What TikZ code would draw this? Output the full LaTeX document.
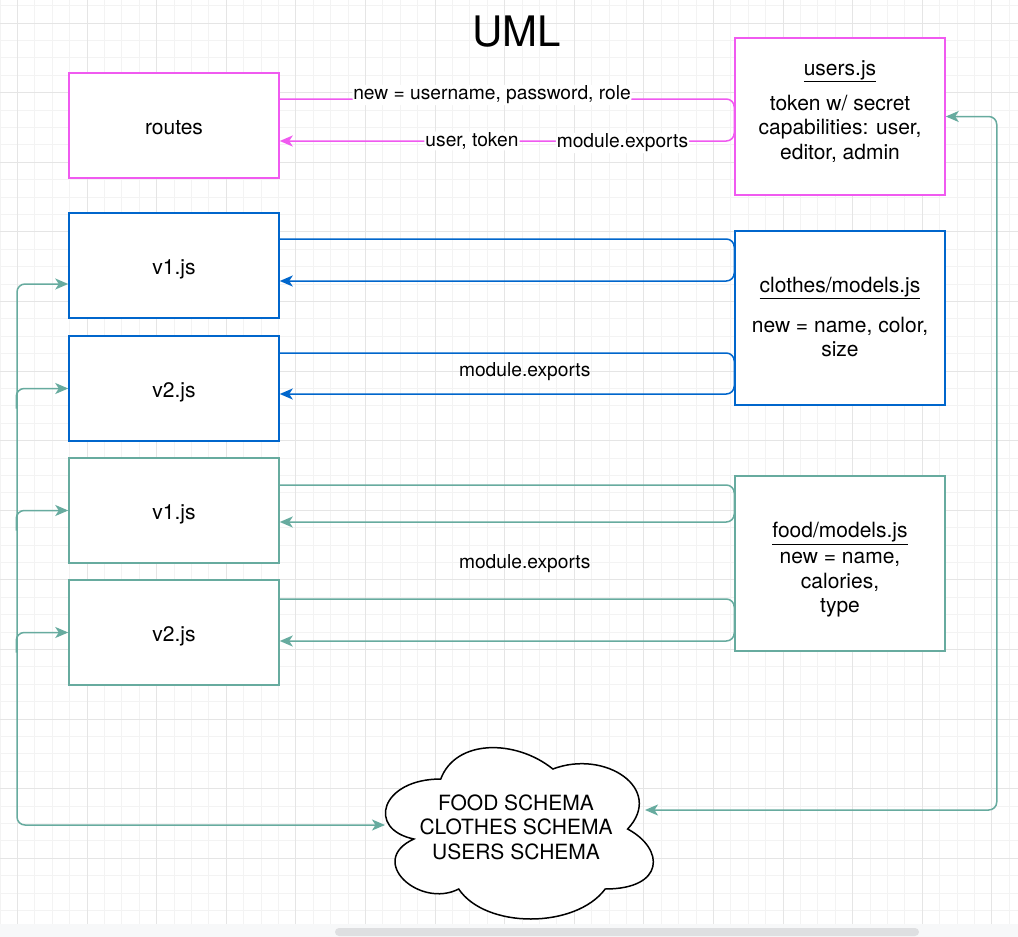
\documentclass[tikz,border=0pt]{standalone}
\usepackage{fontspec}
\setmainfont{TeX Gyre Heros}
\usepackage{tikz}
\usetikzlibrary{arrows.meta}
\definecolor{pinkc}{RGB}{240,90,240}
\definecolor{bluec}{RGB}{0,102,204}
\definecolor{tealc}{RGB}{103,171,159}
\definecolor{gridminor}{RGB}{243,243,243}
\definecolor{gridmajor}{RGB}{229,229,229}
\definecolor{scrollbg}{RGB}{247,248,249}
\definecolor{scrollbar}{RGB}{222,223,225}
\tikzset{box/.style={rectangle,draw,fill=white,line width=1.5pt,minimum width=210pt,minimum height=105pt,
    font=\fontsize{21}{24}\selectfont,text height=21pt,text depth=4pt},
  pinkbox/.style={box,draw=pinkc},
  bluebox/.style={box,draw=bluec},
  tealbox/.style={box,draw=tealc},
  pinkline/.style={draw=pinkc,line width=1.5pt,rounded corners=8pt},
  blueline/.style={draw=bluec,line width=1.5pt,rounded corners=8pt},
  tealline/.style={draw=tealc,line width=1.5pt,rounded corners=8pt},
  lbl/.style={fill=white,inner sep=1pt},
  txt/.style={inner sep=0pt},
  bigtxt/.style={inner sep=0pt,align=center,font=\fontsize{21}{24.5}\selectfont}}

\begin{document}
\begin{tikzpicture}[x=1pt,y=-1pt,>={Stealth[length=13pt,width=11pt,inset=3.5pt]},font=\fontsize{19.2}{24}\selectfont]
        \useasboundingbox (0,0) rectangle (1018,937);
        % background grid
        \fill[white] (0,0) rectangle (1018,937);
        \foreach \k in {0,...,58} \draw[gridminor,line width=1pt] (17.4*\k,0) -- (17.4*\k,924);
        \foreach \k in {0,...,53} \draw[gridminor,line width=1pt] (0,5.6+17.4*\k) -- (1018,5.6+17.4*\k);
        \foreach \k in {1,5,...,57} \draw[gridmajor,line width=1pt] (17.4*\k,0) -- (17.4*\k,924);
        \foreach \k in {1,5,...,53} \draw[gridmajor,line width=1pt] (0,5.6+17.4*\k) -- (1018,5.6+17.4*\k);
        \fill[scrollbg] (0,924) rectangle (1018,937);
        \fill[scrollbar,rounded corners=4pt] (335,928) rectangle (919,936);

        \node[txt,font=\fontsize{42}{42}\selectfont] (uml) at (517,32) {UML};

        \node[pinkbox] (routes) at (174,125.5) {routes};
        \node[pinkbox,minimum height=157pt] (users) at (840,116.5) {};
        \node[bigtxt] (userstxt) at (840,111.5)
            {\underline{users.js}\\[10.5pt]token w/ secret\\capabilities: user,\\editor, admin};
        \node[bluebox] (v1a) at (174,265.5) {v1.js};
        \node[bluebox] (v2a) at (174,388.5) {v2.js};
        \node[bluebox,minimum height=174pt] (clothes) at (840,318) {};
        \node[bigtxt] (clothestxt) at (840,317)
            {\underline{clothes/models.js}\\[15.5pt]new = name, color,\\size};
        \node[tealbox] (v1b) at (174,510.5) {v1.js};
        \node[tealbox] (v2b) at (174,632.5) {v2.js};
        \node[tealbox,minimum height=175pt] (food) at (840,563.5) {};
        \node[bigtxt] (foodtxt) at (840,570)
            {\underline{food/models.js}\\[1.5pt]new = name,\\calories,\\type};

        % cloud
        \begin{scope}[shift={(366,729)},x=2.99pt,y=-2pt]
            \draw[line width=1.5pt,fill=white] (25,25) .. controls (5,25) and (0,50) .. (16,55)
                .. controls (0,66) and (18,90) .. (31,80)
                .. controls (40,100) and (70,100) .. (80,80)
                .. controls (100,80) and (100,60) .. (87.5,50)
                .. controls (100,30) and (80,10) .. (62.5,20)
                .. controls (50,5) and (30,5) .. (25,25) -- cycle;
        \end{scope}
        \node[bigtxt] (schema) at (516,827) {FOOD SCHEMA\\CLOTHES SCHEMA\\USERS SCHEMA};
        \coordinate (schemaL) at (385,825);
        \coordinate (schemaR) at (645,810);
        \coordinate (busL) at (17,825);

        \draw [pinkline,->] ([yshift=26.5pt]routes.east) -- node[lbl,pos=0.467,yshift=4pt]{new = username, password, role} ([yshift=17.5pt]users.west)
            -- ([yshift=-24.5pt]users.west) -- node[lbl,pos=0.577]{user, token} node[lbl,pos=0.246,yshift=-2pt]{module.exports} ([yshift=-15.5pt]routes.east);
        \draw [blueline,->] ([yshift=26.5pt]v1a.east) -- ([yshift=79pt]clothes.west)
            -- ([yshift=37pt]clothes.west) -- ([yshift=-15.5pt]v1a.east);
        \draw [blueline,->] ([yshift=35.5pt]v2a.east) -- node[txt,pos=0.539,yshift=-19pt]{module.exports} ([yshift=-35pt]clothes.west)
            -- ([yshift=-76pt]clothes.west) -- ([yshift=-5.5pt]v2a.east);
        \draw [tealline,->] ([yshift=25.5pt]v1b.east) -- ([yshift=78.5pt]food.west)
            -- ([yshift=41.5pt]food.west) -- ([yshift=-11.5pt]v1b.east);
        \draw [tealline,->] ([yshift=33.5pt]v2b.east) -- node[txt,pos=0.539,yshift=35pt]{module.exports} ([yshift=-35.5pt]food.west)
            -- ([yshift=-77.5pt]food.west) -- ([yshift=-8.5pt]v2b.east);

        \draw [tealline,<->] ([yshift=-18.5pt]v1a.west) -| (busL) -- (schemaL);
        \draw [tealline,->] ([xshift=-52pt,yshift=-20pt]v2a.west) |- (v2a.west);
        \draw [tealline,->] ([xshift=-52pt,yshift=-20pt]v1b.west) |- (v1b.west);
        \draw [tealline,->] ([xshift=-52pt,yshift=-20pt]v2b.west) |- (v2b.west);
        \draw [tealline,<->] (schemaR) -| ([xshift=51pt]users.east) -- (users.east);
    \end{tikzpicture}
\end{document}
